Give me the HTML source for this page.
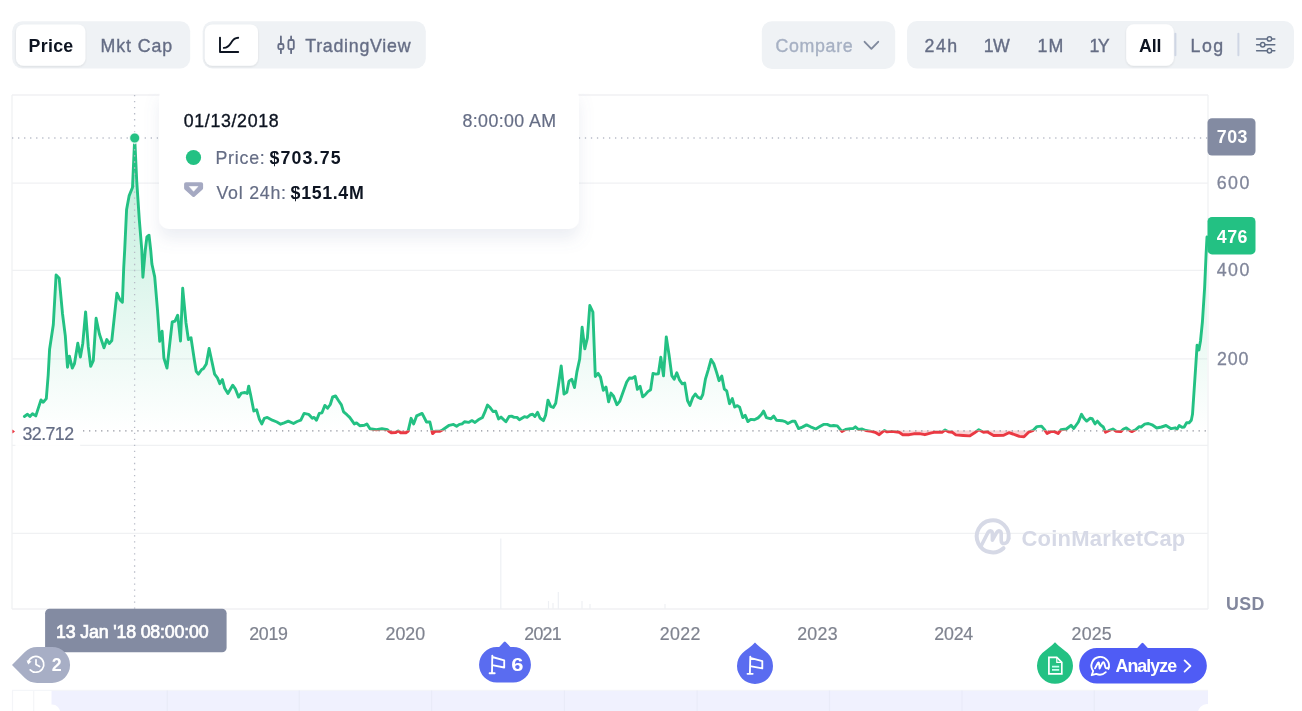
<!DOCTYPE html>
<html lang="en"><head><meta charset="utf-8"><title>Price chart</title>
<style>
html,body{margin:0;padding:0;background:#fff;}
body{width:1302px;height:711px;overflow:hidden;position:relative;font-family:"Liberation Sans",sans-serif;}
svg{position:absolute;left:0;top:0;display:block;font-family:"Liberation Sans",sans-serif;}
text{white-space:pre;}
</style></head><body>
<svg width="1302" height="711" viewBox="0 0 1302 711">
<defs>
<linearGradient id="gfill" x1="0" y1="95" x2="0" y2="431" gradientUnits="userSpaceOnUse">
<stop offset="0" stop-color="#23c183" stop-opacity="0.34"/><stop offset="1" stop-color="#23c183" stop-opacity="0"/></linearGradient>
<clipPath id="cup"><rect x="0" y="0" width="1302" height="430.6"/></clipPath>
<clipPath id="cdn"><rect x="0" y="430.6" width="1302" height="300"/></clipPath>
<filter id="sh" x="-20%" y="-30%" width="140%" height="180%"><feGaussianBlur in="SourceAlpha" stdDeviation="7.5"/><feOffset dy="10" result="b"/><feFlood flood-color="#7282a8" flood-opacity="0.13"/><feComposite in2="b" operator="in"/><feMerge><feMergeNode/><feMergeNode in="SourceGraphic"/></feMerge></filter>
<filter id="sh2" x="-20%" y="-20%" width="140%" height="150%"><feGaussianBlur in="SourceAlpha" stdDeviation="1.2"/><feOffset dy="1"/><feComponentTransfer><feFuncA type="linear" slope="0.10"/></feComponentTransfer><feMerge><feMergeNode/><feMergeNode in="SourceGraphic"/></feMerge></filter>
</defs>

<!-- toolbar -->
<g id="toolbar">
<rect x="12.2" y="21.2" width="178" height="47.3" rx="10" fill="#eff2f5"/>
<rect x="16" y="24.4" width="69.4" height="41.4" rx="7.5" fill="#fff" filter="url(#sh2)"/>
<text id="t_price" x="28.60" y="52.17" style="font-size:17.8px;font-weight:bold;fill:#0d1421;letter-spacing:0.275px;">Price</text><text id="t_mkt" x="100.40" y="52.17" style="font-size:17.8px;font-weight:normal;fill:#656d85;letter-spacing:0.933px;stroke:#656d85;stroke-width:0.35px;">Mkt Cap</text>
<rect x="202.6" y="21.2" width="223.2" height="47.3" rx="10" fill="#eff2f5"/>
<rect x="204.8" y="24.4" width="53.2" height="41.4" rx="7.5" fill="#fff" filter="url(#sh2)"/>
<g fill="none" stroke="#0d1421" stroke-width="1.9" stroke-linecap="round" stroke-linejoin="round">
<path d="M220 37.6V52H238.2"/><path d="M223.8 47.9C228.6 47.6 229.8 44.6 231.4 42.2C233 39.6 234.6 37.9 238.2 37.7"/></g>
<g fill="none" stroke="#656d85" stroke-width="1.8" stroke-linecap="round" stroke-linejoin="round">
<path d="M280.9 36.4V44M280.9 49.2V53.2M291.1 36.4V40M291.1 49.2V53.2"/>
<rect x="278.3" y="44" width="5.2" height="5.2" rx="1.4"/><rect x="288.4" y="40" width="5.4" height="9.2" rx="1.4"/></g>
<text id="t_tv" x="305.20" y="52.17" style="font-size:17.8px;font-weight:normal;fill:#656d85;letter-spacing:0.750px;stroke:#656d85;stroke-width:0.35px;">TradingView</text>
<rect x="761.8" y="21.2" width="133.4" height="47.8" rx="10" fill="#eff2f5"/>
<text id="t_cmp" x="775.40" y="52.17" style="font-size:17.8px;font-weight:normal;fill:#a6b0c3;letter-spacing:0.700px;stroke:#a6b0c3;stroke-width:0.35px;">Compare</text>
<path d="M864.6 41.8L871.4 48.8L878.2 41.8" fill="none" stroke="#808a9d" stroke-width="1.9" stroke-linecap="round" stroke-linejoin="round"/>
<rect x="907" y="21" width="387" height="47.6" rx="10" fill="#eff2f5"/>
<rect x="1126.2" y="24.2" width="47.6" height="41.6" rx="7.5" fill="#fff" filter="url(#sh2)"/>
<text id="t_24h" x="924.60" y="52.17" style="font-size:17.8px;font-weight:normal;fill:#656d85;letter-spacing:1.450px;stroke:#656d85;stroke-width:0.35px;">24h</text><text id="t_1w" x="983.80" y="52.17" style="font-size:17.8px;font-weight:normal;fill:#656d85;letter-spacing:-0.600px;stroke:#656d85;stroke-width:0.35px;">1W</text><text id="t_1m" x="1037.40" y="52.17" style="font-size:17.8px;font-weight:normal;fill:#656d85;letter-spacing:1.300px;stroke:#656d85;stroke-width:0.35px;">1M</text><text id="t_1y" x="1089.40" y="52.17" style="font-size:17.8px;font-weight:normal;fill:#656d85;letter-spacing:-1.500px;stroke:#656d85;stroke-width:0.35px;">1Y</text><text id="t_all" x="1139.10" y="52.17" style="font-size:17.8px;font-weight:bold;fill:#0d1421;letter-spacing:-0.150px;">All</text><text id="t_log" x="1190.50" y="52.17" style="font-size:17.8px;font-weight:normal;fill:#656d85;letter-spacing:1.500px;stroke:#656d85;stroke-width:0.35px;">Log</text>
<rect x="1174.4" y="32.8" width="2" height="23.4" rx="1" fill="#cfd6e4"/>
<rect x="1237.4" y="32.8" width="2" height="23.4" rx="1" fill="#cfd6e4"/>
<g fill="none" stroke="#616e85" stroke-width="1.5" stroke-linecap="round">
<path d="M1256.6 38.9H1267M1272 38.9H1274.8M1256.6 44.8H1260.2M1265.2 44.8H1274.8M1256.6 50.7H1267M1272 50.7H1274.8"/>
<circle cx="1269.5" cy="38.9" r="2.2"/><circle cx="1262.7" cy="44.8" r="2.2"/><circle cx="1269.5" cy="50.7" r="2.2"/></g>
</g>

<!-- chart -->
<g id="chart">
<g stroke="#f0f1f3" stroke-width="1.3" fill="none">
<line x1="12" x2="1208" y1="95" y2="95"/><line x1="12" x2="1208" y1="609" y2="609"/>
<line x1="12" x2="12" y1="95" y2="609"/><line x1="1208" x2="1208" y1="95" y2="609"/>
<line x1="12" x2="1208" y1="183.2" y2="183.2"/><line x1="12" x2="1208" y1="270.4" y2="270.4"/><line x1="12" x2="1208" y1="358.9" y2="358.9"/><line x1="12" x2="1208" y1="445.4" y2="445.4"/><line x1="12" x2="1208" y1="533.3" y2="533.3"/></g>
<!-- volume -->
<g stroke="#eef0f4" stroke-width="1.2"><line x1="500.8" x2="500.8" y1="538.5" y2="609"/><line x1="558.3" x2="558.3" y1="592" y2="609"/>
<line x1="548.5" x2="548.5" y1="601" y2="609"/><line x1="553" x2="553" y1="603" y2="609"/><line x1="582" x2="582" y1="601" y2="609"/><line x1="590" x2="590" y1="604" y2="609"/><line x1="665" x2="665" y1="604" y2="609"/></g>
<!-- watermark -->
<g fill="none" stroke="#d6d9e6" stroke-width="4" stroke-linecap="round" stroke-linejoin="round">
<path d="M1003.5 548.2A16 16 0 1 1 1008.6 538.5"/>
<path d="M980.8 546.5L988 532.5C989.6 529.8 992.4 530.6 992.4 533.6V540.2L996.6 532.6C998.2 529.9 1001.2 530.6 1001.2 533.6V540.6C1001.2 545 1007.6 544.6 1008.6 538.5" stroke-width="3.6"/></g>
<text id="wm" x="1021.50" y="546.28" style="font-size:22px;font-weight:bold;fill:#d6d9e6;letter-spacing:0.200px;">CoinMarketCap</text>
<path d="M24.4 416.5 L27.5 414.3 L29.9 416.5 L32.5 413.7 L35.8 415.9 L41.0 399.9 L43.2 402.3 L46.3 398.6 L48.2 375.0 L49.6 349.2 L53.3 324.8 L56.1 275.0 L59.2 278.3 L62.5 313.7 L65.3 335.9 L67.5 367.2 L69.4 356.1 L72.3 368.1 L74.5 363.5 L77.8 343.2 L80.4 357.0 L82.8 343.2 L85.6 311.9 L88.3 346.9 L90.7 366.3 L93.3 360.7 L96.1 318.3 L99.4 334.0 L104.0 347.8 L106.8 339.5 L109.2 343.6 L111.8 340.5 L116.9 293.1 L120.0 299.9 L122.4 302.3 L123.7 268.0 L124.7 250.0 L126.6 209.4 L129.1 195.9 L132.5 187.5 L134.7 138.0 L136.7 180.7 L139.3 219.6 L141.8 250.0 L142.9 277.2 L145.3 250.0 L146.9 236.8 L149.0 235.2 L150.8 251.0 L151.9 264.0 L154.7 276.9 L157.5 310.0 L159.7 341.4 L162.1 331.2 L163.9 358.0 L167.0 368.1 L172.2 322.0 L175.0 321.1 L177.7 315.2 L180.5 341.0 L182.7 288.3 L186.0 323.0 L188.4 339.5 L191.0 337.7 L194.3 359.8 L196.2 371.3 L198.4 374.1 L201.7 369.5 L203.5 368.6 L206.3 364.0 L209.1 348.5 L211.8 361.0 L214.6 374.1 L217.4 377.8 L219.8 383.7 L222.4 379.6 L224.7 388.3 L227.9 393.5 L232.7 385.2 L235.3 388.8 L238.6 397.1 L241.3 393.1 L245.0 392.5 L247.2 393.5 L248.7 386.1 L250.7 395.3 L253.8 411.0 L256.6 409.7 L259.4 419.3 L261.8 423.9 L264.3 418.3 L267.3 417.4 L272.3 420.2 L276.9 422.0 L280.6 424.2 L284.2 422.9 L288.3 421.1 L293.5 423.5 L297.1 421.5 L300.8 420.2 L304.1 413.4 L308.6 414.3 L312.3 418.3 L314.1 417.4 L316.5 420.2 L319.3 413.4 L322.0 412.8 L324.8 405.4 L327.6 408.2 L330.3 404.5 L332.7 396.8 L335.5 395.9 L338.6 400.8 L341.4 404.9 L343.6 411.9 L346.9 414.7 L349.7 417.4 L354.3 423.9 L356.5 422.9 L359.8 425.7 L364.4 425.2 L366.8 423.9 L370.0 428.8 L376.4 429.8 L381.9 428.8 L387.5 429.8 L389.3 431.6 L391.2 432.7 L395.8 432.5 L398.2 430.9 L400.7 432.7 L405.9 432.7 L408.1 431.2 L411.1 418.3 L413.6 423.9 L416.6 415.9 L422.1 413.4 L426.5 422.0 L429.9 422.0 L432.1 431.6 L432.6 433.6 L435.4 431.2 L440.0 431.2 L442.8 429.8 L449.2 425.3 L453.5 424.4 L456.6 426.3 L459.4 424.4 L462.1 423.9 L464.5 421.7 L468.6 422.4 L471.9 420.6 L475.0 422.4 L478.3 419.8 L482.5 417.4 L484.7 412.4 L487.5 405.1 L490.3 407.8 L493.0 411.5 L495.8 411.2 L498.6 418.9 L501.0 417.1 L505.9 421.7 L509.1 416.5 L511.5 416.1 L514.2 417.4 L517.0 417.4 L519.4 419.8 L524.4 416.7 L527.1 417.4 L530.5 414.7 L532.7 414.3 L534.9 416.5 L537.6 412.4 L540.0 418.0 L543.4 420.7 L545.6 415.2 L548.0 400.1 L550.7 406.4 L553.3 407.5 L555.7 403.2 L558.5 384.8 L561.2 366.0 L564.0 394.0 L566.8 392.2 L569.0 381.1 L571.8 379.3 L574.5 387.6 L576.9 371.9 L579.7 359.0 L582.1 327.3 L584.8 348.8 L587.4 337.8 L589.8 305.5 L592.9 312.0 L595.3 376.5 L598.1 373.4 L600.5 377.1 L603.3 390.3 L606.0 387.0 L608.6 401.8 L611.0 393.1 L613.4 395.9 L616.9 404.7 L619.7 401.4 L623.0 392.2 L626.7 382.0 L629.4 378.0 L632.2 378.3 L635.0 376.5 L637.4 389.4 L640.1 386.3 L642.7 396.8 L645.1 394.9 L647.9 391.6 L650.6 389.8 L653.0 373.4 L655.8 374.1 L658.4 373.7 L660.8 357.1 L663.5 375.9 L666.3 336.9 L669.1 355.3 L671.8 375.6 L674.2 379.3 L676.8 372.8 L679.6 380.2 L682.3 383.9 L684.7 383.0 L687.5 400.5 L689.9 405.4 L692.7 397.7 L695.3 394.0 L698.0 397.3 L700.8 398.6 L702.8 394.5 L705.5 378.8 L708.3 369.6 L711.1 359.5 L713.8 363.7 L716.6 372.4 L719.0 380.7 L721.8 376.1 L724.3 389.0 L726.7 390.8 L729.5 403.7 L732.3 398.6 L734.7 407.1 L737.4 405.6 L739.6 407.1 L742.8 417.6 L745.2 415.2 L747.9 421.6 L750.7 419.4 L754.4 419.8 L758.1 417.9 L761.2 414.8 L763.6 411.1 L766.4 417.6 L771.0 418.8 L773.7 416.1 L776.5 420.3 L782.0 420.7 L785.2 421.6 L787.9 423.5 L792.2 421.2 L794.9 421.2 L798.6 428.6 L802.3 427.1 L806.5 424.9 L810.6 426.8 L815.8 429.0 L819.4 426.8 L823.5 424.4 L827.2 424.4 L830.5 425.9 L833.6 425.5 L837.3 425.9 L841.9 431.4 L845.6 429.5 L850.2 428.6 L853.0 428.6 L855.4 426.8 L858.5 429.5 L862.2 429.0 L865.9 430.5 L871.4 431.4 L875.1 432.3 L879.2 434.7 L884.3 430.5 L887.1 431.9 L891.7 431.4 L899.1 432.3 L902.8 434.7 L909.2 434.7 L913.8 433.8 L919.4 433.6 L924.9 434.7 L930.4 433.2 L935.0 432.2 L942.0 432.2 L945.1 430.0 L948.4 431.8 L952.1 432.2 L955.8 434.9 L963.2 435.5 L969.6 435.9 L974.2 433.1 L978.8 429.8 L983.5 432.2 L987.1 431.8 L993.6 435.5 L1003.7 435.3 L1008.9 432.7 L1012.9 434.0 L1019.4 436.4 L1024.0 436.8 L1028.6 432.2 L1033.2 430.3 L1036.9 426.6 L1041.5 426.1 L1044.3 429.4 L1047.1 433.5 L1050.7 431.6 L1054.4 431.6 L1058.1 433.5 L1060.9 429.8 L1066.4 429.0 L1071.0 425.3 L1073.8 428.5 L1078.4 422.0 L1081.5 414.3 L1083.9 418.3 L1086.7 421.1 L1090.0 418.3 L1092.2 418.7 L1095.0 423.9 L1097.4 421.1 L1100.5 424.8 L1103.3 427.0 L1105.5 432.2 L1108.8 430.7 L1112.9 429.0 L1116.2 431.2 L1120.8 431.6 L1123.5 429.0 L1126.3 427.9 L1130.0 430.7 L1131.8 431.6 L1135.5 429.8 L1139.2 426.6 L1141.1 427.0 L1144.7 424.2 L1148.4 423.5 L1152.1 424.8 L1156.7 428.0 L1161.5 427.0 L1166.0 425.5 L1171.1 428.7 L1175.3 427.8 L1177.0 429.2 L1179.2 425.6 L1182.0 427.3 L1184.2 427.0 L1186.6 422.8 L1189.1 422.8 L1191.3 420.2 L1192.5 414.3 L1194.2 389.0 L1195.9 363.7 L1197.1 345.2 L1198.9 350.0 L1200.5 341.0 L1202.4 322.0 L1204.6 288.0 L1206.1 254.0 L1207.0 237.0 L1207.0 433.6 L12.5 433.6 L12.5 430.6 Z" fill="url(#gfill)" clip-path="url(#cup)"/>
<path d="M24.4 416.5 L27.5 414.3 L29.9 416.5 L32.5 413.7 L35.8 415.9 L41.0 399.9 L43.2 402.3 L46.3 398.6 L48.2 375.0 L49.6 349.2 L53.3 324.8 L56.1 275.0 L59.2 278.3 L62.5 313.7 L65.3 335.9 L67.5 367.2 L69.4 356.1 L72.3 368.1 L74.5 363.5 L77.8 343.2 L80.4 357.0 L82.8 343.2 L85.6 311.9 L88.3 346.9 L90.7 366.3 L93.3 360.7 L96.1 318.3 L99.4 334.0 L104.0 347.8 L106.8 339.5 L109.2 343.6 L111.8 340.5 L116.9 293.1 L120.0 299.9 L122.4 302.3 L123.7 268.0 L124.7 250.0 L126.6 209.4 L129.1 195.9 L132.5 187.5 L134.7 138.0 L136.7 180.7 L139.3 219.6 L141.8 250.0 L142.9 277.2 L145.3 250.0 L146.9 236.8 L149.0 235.2 L150.8 251.0 L151.9 264.0 L154.7 276.9 L157.5 310.0 L159.7 341.4 L162.1 331.2 L163.9 358.0 L167.0 368.1 L172.2 322.0 L175.0 321.1 L177.7 315.2 L180.5 341.0 L182.7 288.3 L186.0 323.0 L188.4 339.5 L191.0 337.7 L194.3 359.8 L196.2 371.3 L198.4 374.1 L201.7 369.5 L203.5 368.6 L206.3 364.0 L209.1 348.5 L211.8 361.0 L214.6 374.1 L217.4 377.8 L219.8 383.7 L222.4 379.6 L224.7 388.3 L227.9 393.5 L232.7 385.2 L235.3 388.8 L238.6 397.1 L241.3 393.1 L245.0 392.5 L247.2 393.5 L248.7 386.1 L250.7 395.3 L253.8 411.0 L256.6 409.7 L259.4 419.3 L261.8 423.9 L264.3 418.3 L267.3 417.4 L272.3 420.2 L276.9 422.0 L280.6 424.2 L284.2 422.9 L288.3 421.1 L293.5 423.5 L297.1 421.5 L300.8 420.2 L304.1 413.4 L308.6 414.3 L312.3 418.3 L314.1 417.4 L316.5 420.2 L319.3 413.4 L322.0 412.8 L324.8 405.4 L327.6 408.2 L330.3 404.5 L332.7 396.8 L335.5 395.9 L338.6 400.8 L341.4 404.9 L343.6 411.9 L346.9 414.7 L349.7 417.4 L354.3 423.9 L356.5 422.9 L359.8 425.7 L364.4 425.2 L366.8 423.9 L370.0 428.8 L376.4 429.8 L381.9 428.8 L387.5 429.8 L389.3 431.6 L391.2 432.7 L395.8 432.5 L398.2 430.9 L400.7 432.7 L405.9 432.7 L408.1 431.2 L411.1 418.3 L413.6 423.9 L416.6 415.9 L422.1 413.4 L426.5 422.0 L429.9 422.0 L432.1 431.6 L432.6 433.6 L435.4 431.2 L440.0 431.2 L442.8 429.8 L449.2 425.3 L453.5 424.4 L456.6 426.3 L459.4 424.4 L462.1 423.9 L464.5 421.7 L468.6 422.4 L471.9 420.6 L475.0 422.4 L478.3 419.8 L482.5 417.4 L484.7 412.4 L487.5 405.1 L490.3 407.8 L493.0 411.5 L495.8 411.2 L498.6 418.9 L501.0 417.1 L505.9 421.7 L509.1 416.5 L511.5 416.1 L514.2 417.4 L517.0 417.4 L519.4 419.8 L524.4 416.7 L527.1 417.4 L530.5 414.7 L532.7 414.3 L534.9 416.5 L537.6 412.4 L540.0 418.0 L543.4 420.7 L545.6 415.2 L548.0 400.1 L550.7 406.4 L553.3 407.5 L555.7 403.2 L558.5 384.8 L561.2 366.0 L564.0 394.0 L566.8 392.2 L569.0 381.1 L571.8 379.3 L574.5 387.6 L576.9 371.9 L579.7 359.0 L582.1 327.3 L584.8 348.8 L587.4 337.8 L589.8 305.5 L592.9 312.0 L595.3 376.5 L598.1 373.4 L600.5 377.1 L603.3 390.3 L606.0 387.0 L608.6 401.8 L611.0 393.1 L613.4 395.9 L616.9 404.7 L619.7 401.4 L623.0 392.2 L626.7 382.0 L629.4 378.0 L632.2 378.3 L635.0 376.5 L637.4 389.4 L640.1 386.3 L642.7 396.8 L645.1 394.9 L647.9 391.6 L650.6 389.8 L653.0 373.4 L655.8 374.1 L658.4 373.7 L660.8 357.1 L663.5 375.9 L666.3 336.9 L669.1 355.3 L671.8 375.6 L674.2 379.3 L676.8 372.8 L679.6 380.2 L682.3 383.9 L684.7 383.0 L687.5 400.5 L689.9 405.4 L692.7 397.7 L695.3 394.0 L698.0 397.3 L700.8 398.6 L702.8 394.5 L705.5 378.8 L708.3 369.6 L711.1 359.5 L713.8 363.7 L716.6 372.4 L719.0 380.7 L721.8 376.1 L724.3 389.0 L726.7 390.8 L729.5 403.7 L732.3 398.6 L734.7 407.1 L737.4 405.6 L739.6 407.1 L742.8 417.6 L745.2 415.2 L747.9 421.6 L750.7 419.4 L754.4 419.8 L758.1 417.9 L761.2 414.8 L763.6 411.1 L766.4 417.6 L771.0 418.8 L773.7 416.1 L776.5 420.3 L782.0 420.7 L785.2 421.6 L787.9 423.5 L792.2 421.2 L794.9 421.2 L798.6 428.6 L802.3 427.1 L806.5 424.9 L810.6 426.8 L815.8 429.0 L819.4 426.8 L823.5 424.4 L827.2 424.4 L830.5 425.9 L833.6 425.5 L837.3 425.9 L841.9 431.4 L845.6 429.5 L850.2 428.6 L853.0 428.6 L855.4 426.8 L858.5 429.5 L862.2 429.0 L865.9 430.5 L871.4 431.4 L875.1 432.3 L879.2 434.7 L884.3 430.5 L887.1 431.9 L891.7 431.4 L899.1 432.3 L902.8 434.7 L909.2 434.7 L913.8 433.8 L919.4 433.6 L924.9 434.7 L930.4 433.2 L935.0 432.2 L942.0 432.2 L945.1 430.0 L948.4 431.8 L952.1 432.2 L955.8 434.9 L963.2 435.5 L969.6 435.9 L974.2 433.1 L978.8 429.8 L983.5 432.2 L987.1 431.8 L993.6 435.5 L1003.7 435.3 L1008.9 432.7 L1012.9 434.0 L1019.4 436.4 L1024.0 436.8 L1028.6 432.2 L1033.2 430.3 L1036.9 426.6 L1041.5 426.1 L1044.3 429.4 L1047.1 433.5 L1050.7 431.6 L1054.4 431.6 L1058.1 433.5 L1060.9 429.8 L1066.4 429.0 L1071.0 425.3 L1073.8 428.5 L1078.4 422.0 L1081.5 414.3 L1083.9 418.3 L1086.7 421.1 L1090.0 418.3 L1092.2 418.7 L1095.0 423.9 L1097.4 421.1 L1100.5 424.8 L1103.3 427.0 L1105.5 432.2 L1108.8 430.7 L1112.9 429.0 L1116.2 431.2 L1120.8 431.6 L1123.5 429.0 L1126.3 427.9 L1130.0 430.7 L1131.8 431.6 L1135.5 429.8 L1139.2 426.6 L1141.1 427.0 L1144.7 424.2 L1148.4 423.5 L1152.1 424.8 L1156.7 428.0 L1161.5 427.0 L1166.0 425.5 L1171.1 428.7 L1175.3 427.8 L1177.0 429.2 L1179.2 425.6 L1182.0 427.3 L1184.2 427.0 L1186.6 422.8 L1189.1 422.8 L1191.3 420.2 L1192.5 414.3 L1194.2 389.0 L1195.9 363.7 L1197.1 345.2 L1198.9 350.0 L1200.5 341.0 L1202.4 322.0 L1204.6 288.0 L1206.1 254.0 L1207.0 237.0 L1207.0 427.6 L24.4 427.6 Z" fill="#ea3943" fill-opacity="0.22" clip-path="url(#cdn)"/>
<!-- crosshair + baseline -->
<g fill="none" stroke-width="1.3" stroke-dasharray="1.3 4.73">
<line x1="83" x2="1208" y1="430.9" y2="430.9" stroke="#8e919b"/></g>
<path d="M24.4 416.5 L27.5 414.3 L29.9 416.5 L32.5 413.7 L35.8 415.9 L41.0 399.9 L43.2 402.3 L46.3 398.6 L48.2 375.0 L49.6 349.2 L53.3 324.8 L56.1 275.0 L59.2 278.3 L62.5 313.7 L65.3 335.9 L67.5 367.2 L69.4 356.1 L72.3 368.1 L74.5 363.5 L77.8 343.2 L80.4 357.0 L82.8 343.2 L85.6 311.9 L88.3 346.9 L90.7 366.3 L93.3 360.7 L96.1 318.3 L99.4 334.0 L104.0 347.8 L106.8 339.5 L109.2 343.6 L111.8 340.5 L116.9 293.1 L120.0 299.9 L122.4 302.3 L123.7 268.0 L124.7 250.0 L126.6 209.4 L129.1 195.9 L132.5 187.5 L134.7 138.0 L136.7 180.7 L139.3 219.6 L141.8 250.0 L142.9 277.2 L145.3 250.0 L146.9 236.8 L149.0 235.2 L150.8 251.0 L151.9 264.0 L154.7 276.9 L157.5 310.0 L159.7 341.4 L162.1 331.2 L163.9 358.0 L167.0 368.1 L172.2 322.0 L175.0 321.1 L177.7 315.2 L180.5 341.0 L182.7 288.3 L186.0 323.0 L188.4 339.5 L191.0 337.7 L194.3 359.8 L196.2 371.3 L198.4 374.1 L201.7 369.5 L203.5 368.6 L206.3 364.0 L209.1 348.5 L211.8 361.0 L214.6 374.1 L217.4 377.8 L219.8 383.7 L222.4 379.6 L224.7 388.3 L227.9 393.5 L232.7 385.2 L235.3 388.8 L238.6 397.1 L241.3 393.1 L245.0 392.5 L247.2 393.5 L248.7 386.1 L250.7 395.3 L253.8 411.0 L256.6 409.7 L259.4 419.3 L261.8 423.9 L264.3 418.3 L267.3 417.4 L272.3 420.2 L276.9 422.0 L280.6 424.2 L284.2 422.9 L288.3 421.1 L293.5 423.5 L297.1 421.5 L300.8 420.2 L304.1 413.4 L308.6 414.3 L312.3 418.3 L314.1 417.4 L316.5 420.2 L319.3 413.4 L322.0 412.8 L324.8 405.4 L327.6 408.2 L330.3 404.5 L332.7 396.8 L335.5 395.9 L338.6 400.8 L341.4 404.9 L343.6 411.9 L346.9 414.7 L349.7 417.4 L354.3 423.9 L356.5 422.9 L359.8 425.7 L364.4 425.2 L366.8 423.9 L370.0 428.8 L376.4 429.8 L381.9 428.8 L387.5 429.8 L389.3 431.6 L391.2 432.7 L395.8 432.5 L398.2 430.9 L400.7 432.7 L405.9 432.7 L408.1 431.2 L411.1 418.3 L413.6 423.9 L416.6 415.9 L422.1 413.4 L426.5 422.0 L429.9 422.0 L432.1 431.6 L432.6 433.6 L435.4 431.2 L440.0 431.2 L442.8 429.8 L449.2 425.3 L453.5 424.4 L456.6 426.3 L459.4 424.4 L462.1 423.9 L464.5 421.7 L468.6 422.4 L471.9 420.6 L475.0 422.4 L478.3 419.8 L482.5 417.4 L484.7 412.4 L487.5 405.1 L490.3 407.8 L493.0 411.5 L495.8 411.2 L498.6 418.9 L501.0 417.1 L505.9 421.7 L509.1 416.5 L511.5 416.1 L514.2 417.4 L517.0 417.4 L519.4 419.8 L524.4 416.7 L527.1 417.4 L530.5 414.7 L532.7 414.3 L534.9 416.5 L537.6 412.4 L540.0 418.0 L543.4 420.7 L545.6 415.2 L548.0 400.1 L550.7 406.4 L553.3 407.5 L555.7 403.2 L558.5 384.8 L561.2 366.0 L564.0 394.0 L566.8 392.2 L569.0 381.1 L571.8 379.3 L574.5 387.6 L576.9 371.9 L579.7 359.0 L582.1 327.3 L584.8 348.8 L587.4 337.8 L589.8 305.5 L592.9 312.0 L595.3 376.5 L598.1 373.4 L600.5 377.1 L603.3 390.3 L606.0 387.0 L608.6 401.8 L611.0 393.1 L613.4 395.9 L616.9 404.7 L619.7 401.4 L623.0 392.2 L626.7 382.0 L629.4 378.0 L632.2 378.3 L635.0 376.5 L637.4 389.4 L640.1 386.3 L642.7 396.8 L645.1 394.9 L647.9 391.6 L650.6 389.8 L653.0 373.4 L655.8 374.1 L658.4 373.7 L660.8 357.1 L663.5 375.9 L666.3 336.9 L669.1 355.3 L671.8 375.6 L674.2 379.3 L676.8 372.8 L679.6 380.2 L682.3 383.9 L684.7 383.0 L687.5 400.5 L689.9 405.4 L692.7 397.7 L695.3 394.0 L698.0 397.3 L700.8 398.6 L702.8 394.5 L705.5 378.8 L708.3 369.6 L711.1 359.5 L713.8 363.7 L716.6 372.4 L719.0 380.7 L721.8 376.1 L724.3 389.0 L726.7 390.8 L729.5 403.7 L732.3 398.6 L734.7 407.1 L737.4 405.6 L739.6 407.1 L742.8 417.6 L745.2 415.2 L747.9 421.6 L750.7 419.4 L754.4 419.8 L758.1 417.9 L761.2 414.8 L763.6 411.1 L766.4 417.6 L771.0 418.8 L773.7 416.1 L776.5 420.3 L782.0 420.7 L785.2 421.6 L787.9 423.5 L792.2 421.2 L794.9 421.2 L798.6 428.6 L802.3 427.1 L806.5 424.9 L810.6 426.8 L815.8 429.0 L819.4 426.8 L823.5 424.4 L827.2 424.4 L830.5 425.9 L833.6 425.5 L837.3 425.9 L841.9 431.4 L845.6 429.5 L850.2 428.6 L853.0 428.6 L855.4 426.8 L858.5 429.5 L862.2 429.0 L865.9 430.5 L871.4 431.4 L875.1 432.3 L879.2 434.7 L884.3 430.5 L887.1 431.9 L891.7 431.4 L899.1 432.3 L902.8 434.7 L909.2 434.7 L913.8 433.8 L919.4 433.6 L924.9 434.7 L930.4 433.2 L935.0 432.2 L942.0 432.2 L945.1 430.0 L948.4 431.8 L952.1 432.2 L955.8 434.9 L963.2 435.5 L969.6 435.9 L974.2 433.1 L978.8 429.8 L983.5 432.2 L987.1 431.8 L993.6 435.5 L1003.7 435.3 L1008.9 432.7 L1012.9 434.0 L1019.4 436.4 L1024.0 436.8 L1028.6 432.2 L1033.2 430.3 L1036.9 426.6 L1041.5 426.1 L1044.3 429.4 L1047.1 433.5 L1050.7 431.6 L1054.4 431.6 L1058.1 433.5 L1060.9 429.8 L1066.4 429.0 L1071.0 425.3 L1073.8 428.5 L1078.4 422.0 L1081.5 414.3 L1083.9 418.3 L1086.7 421.1 L1090.0 418.3 L1092.2 418.7 L1095.0 423.9 L1097.4 421.1 L1100.5 424.8 L1103.3 427.0 L1105.5 432.2 L1108.8 430.7 L1112.9 429.0 L1116.2 431.2 L1120.8 431.6 L1123.5 429.0 L1126.3 427.9 L1130.0 430.7 L1131.8 431.6 L1135.5 429.8 L1139.2 426.6 L1141.1 427.0 L1144.7 424.2 L1148.4 423.5 L1152.1 424.8 L1156.7 428.0 L1161.5 427.0 L1166.0 425.5 L1171.1 428.7 L1175.3 427.8 L1177.0 429.2 L1179.2 425.6 L1182.0 427.3 L1184.2 427.0 L1186.6 422.8 L1189.1 422.8 L1191.3 420.2 L1192.5 414.3 L1194.2 389.0 L1195.9 363.7 L1197.1 345.2 L1198.9 350.0 L1200.5 341.0 L1202.4 322.0 L1204.6 288.0 L1206.1 254.0 L1207.0 237.0" fill="none" stroke="#23c183" stroke-width="2.9" stroke-linejoin="round" stroke-linecap="round" clip-path="url(#cup)"/>
<path d="M24.4 416.5 L27.5 414.3 L29.9 416.5 L32.5 413.7 L35.8 415.9 L41.0 399.9 L43.2 402.3 L46.3 398.6 L48.2 375.0 L49.6 349.2 L53.3 324.8 L56.1 275.0 L59.2 278.3 L62.5 313.7 L65.3 335.9 L67.5 367.2 L69.4 356.1 L72.3 368.1 L74.5 363.5 L77.8 343.2 L80.4 357.0 L82.8 343.2 L85.6 311.9 L88.3 346.9 L90.7 366.3 L93.3 360.7 L96.1 318.3 L99.4 334.0 L104.0 347.8 L106.8 339.5 L109.2 343.6 L111.8 340.5 L116.9 293.1 L120.0 299.9 L122.4 302.3 L123.7 268.0 L124.7 250.0 L126.6 209.4 L129.1 195.9 L132.5 187.5 L134.7 138.0 L136.7 180.7 L139.3 219.6 L141.8 250.0 L142.9 277.2 L145.3 250.0 L146.9 236.8 L149.0 235.2 L150.8 251.0 L151.9 264.0 L154.7 276.9 L157.5 310.0 L159.7 341.4 L162.1 331.2 L163.9 358.0 L167.0 368.1 L172.2 322.0 L175.0 321.1 L177.7 315.2 L180.5 341.0 L182.7 288.3 L186.0 323.0 L188.4 339.5 L191.0 337.7 L194.3 359.8 L196.2 371.3 L198.4 374.1 L201.7 369.5 L203.5 368.6 L206.3 364.0 L209.1 348.5 L211.8 361.0 L214.6 374.1 L217.4 377.8 L219.8 383.7 L222.4 379.6 L224.7 388.3 L227.9 393.5 L232.7 385.2 L235.3 388.8 L238.6 397.1 L241.3 393.1 L245.0 392.5 L247.2 393.5 L248.7 386.1 L250.7 395.3 L253.8 411.0 L256.6 409.7 L259.4 419.3 L261.8 423.9 L264.3 418.3 L267.3 417.4 L272.3 420.2 L276.9 422.0 L280.6 424.2 L284.2 422.9 L288.3 421.1 L293.5 423.5 L297.1 421.5 L300.8 420.2 L304.1 413.4 L308.6 414.3 L312.3 418.3 L314.1 417.4 L316.5 420.2 L319.3 413.4 L322.0 412.8 L324.8 405.4 L327.6 408.2 L330.3 404.5 L332.7 396.8 L335.5 395.9 L338.6 400.8 L341.4 404.9 L343.6 411.9 L346.9 414.7 L349.7 417.4 L354.3 423.9 L356.5 422.9 L359.8 425.7 L364.4 425.2 L366.8 423.9 L370.0 428.8 L376.4 429.8 L381.9 428.8 L387.5 429.8 L389.3 431.6 L391.2 432.7 L395.8 432.5 L398.2 430.9 L400.7 432.7 L405.9 432.7 L408.1 431.2 L411.1 418.3 L413.6 423.9 L416.6 415.9 L422.1 413.4 L426.5 422.0 L429.9 422.0 L432.1 431.6 L432.6 433.6 L435.4 431.2 L440.0 431.2 L442.8 429.8 L449.2 425.3 L453.5 424.4 L456.6 426.3 L459.4 424.4 L462.1 423.9 L464.5 421.7 L468.6 422.4 L471.9 420.6 L475.0 422.4 L478.3 419.8 L482.5 417.4 L484.7 412.4 L487.5 405.1 L490.3 407.8 L493.0 411.5 L495.8 411.2 L498.6 418.9 L501.0 417.1 L505.9 421.7 L509.1 416.5 L511.5 416.1 L514.2 417.4 L517.0 417.4 L519.4 419.8 L524.4 416.7 L527.1 417.4 L530.5 414.7 L532.7 414.3 L534.9 416.5 L537.6 412.4 L540.0 418.0 L543.4 420.7 L545.6 415.2 L548.0 400.1 L550.7 406.4 L553.3 407.5 L555.7 403.2 L558.5 384.8 L561.2 366.0 L564.0 394.0 L566.8 392.2 L569.0 381.1 L571.8 379.3 L574.5 387.6 L576.9 371.9 L579.7 359.0 L582.1 327.3 L584.8 348.8 L587.4 337.8 L589.8 305.5 L592.9 312.0 L595.3 376.5 L598.1 373.4 L600.5 377.1 L603.3 390.3 L606.0 387.0 L608.6 401.8 L611.0 393.1 L613.4 395.9 L616.9 404.7 L619.7 401.4 L623.0 392.2 L626.7 382.0 L629.4 378.0 L632.2 378.3 L635.0 376.5 L637.4 389.4 L640.1 386.3 L642.7 396.8 L645.1 394.9 L647.9 391.6 L650.6 389.8 L653.0 373.4 L655.8 374.1 L658.4 373.7 L660.8 357.1 L663.5 375.9 L666.3 336.9 L669.1 355.3 L671.8 375.6 L674.2 379.3 L676.8 372.8 L679.6 380.2 L682.3 383.9 L684.7 383.0 L687.5 400.5 L689.9 405.4 L692.7 397.7 L695.3 394.0 L698.0 397.3 L700.8 398.6 L702.8 394.5 L705.5 378.8 L708.3 369.6 L711.1 359.5 L713.8 363.7 L716.6 372.4 L719.0 380.7 L721.8 376.1 L724.3 389.0 L726.7 390.8 L729.5 403.7 L732.3 398.6 L734.7 407.1 L737.4 405.6 L739.6 407.1 L742.8 417.6 L745.2 415.2 L747.9 421.6 L750.7 419.4 L754.4 419.8 L758.1 417.9 L761.2 414.8 L763.6 411.1 L766.4 417.6 L771.0 418.8 L773.7 416.1 L776.5 420.3 L782.0 420.7 L785.2 421.6 L787.9 423.5 L792.2 421.2 L794.9 421.2 L798.6 428.6 L802.3 427.1 L806.5 424.9 L810.6 426.8 L815.8 429.0 L819.4 426.8 L823.5 424.4 L827.2 424.4 L830.5 425.9 L833.6 425.5 L837.3 425.9 L841.9 431.4 L845.6 429.5 L850.2 428.6 L853.0 428.6 L855.4 426.8 L858.5 429.5 L862.2 429.0 L865.9 430.5 L871.4 431.4 L875.1 432.3 L879.2 434.7 L884.3 430.5 L887.1 431.9 L891.7 431.4 L899.1 432.3 L902.8 434.7 L909.2 434.7 L913.8 433.8 L919.4 433.6 L924.9 434.7 L930.4 433.2 L935.0 432.2 L942.0 432.2 L945.1 430.0 L948.4 431.8 L952.1 432.2 L955.8 434.9 L963.2 435.5 L969.6 435.9 L974.2 433.1 L978.8 429.8 L983.5 432.2 L987.1 431.8 L993.6 435.5 L1003.7 435.3 L1008.9 432.7 L1012.9 434.0 L1019.4 436.4 L1024.0 436.8 L1028.6 432.2 L1033.2 430.3 L1036.9 426.6 L1041.5 426.1 L1044.3 429.4 L1047.1 433.5 L1050.7 431.6 L1054.4 431.6 L1058.1 433.5 L1060.9 429.8 L1066.4 429.0 L1071.0 425.3 L1073.8 428.5 L1078.4 422.0 L1081.5 414.3 L1083.9 418.3 L1086.7 421.1 L1090.0 418.3 L1092.2 418.7 L1095.0 423.9 L1097.4 421.1 L1100.5 424.8 L1103.3 427.0 L1105.5 432.2 L1108.8 430.7 L1112.9 429.0 L1116.2 431.2 L1120.8 431.6 L1123.5 429.0 L1126.3 427.9 L1130.0 430.7 L1131.8 431.6 L1135.5 429.8 L1139.2 426.6 L1141.1 427.0 L1144.7 424.2 L1148.4 423.5 L1152.1 424.8 L1156.7 428.0 L1161.5 427.0 L1166.0 425.5 L1171.1 428.7 L1175.3 427.8 L1177.0 429.2 L1179.2 425.6 L1182.0 427.3 L1184.2 427.0 L1186.6 422.8 L1189.1 422.8 L1191.3 420.2 L1192.5 414.3 L1194.2 389.0 L1195.9 363.7 L1197.1 345.2 L1198.9 350.0 L1200.5 341.0 L1202.4 322.0 L1204.6 288.0 L1206.1 254.0 L1207.0 237.0" fill="none" stroke="#ea3943" stroke-width="2.9" stroke-linejoin="round" stroke-linecap="round" clip-path="url(#cdn)"/>
<g fill="none" stroke-width="1.3" stroke-dasharray="1.3 4.73" stroke="#b8bcc8">
<line x1="12" x2="1208" y1="138" y2="138"/>
<line x1="134.6" x2="134.6" y1="95" y2="609"/></g>
<circle cx="134.7" cy="138" r="5.2" fill="#23c183" stroke="#fff" stroke-opacity="0.8" stroke-width="1.4"/>
<path d="M12.4 429.6L15 431.4L12.4 433.4Z" fill="#ea3943"/>
<rect x="15.4" y="420" width="64.8" height="27.5" fill="#fff" fill-opacity="0.92"/>
<text id="a_base" x="22.50" y="440.17" style="font-size:17.8px;font-weight:normal;fill:#656d85;letter-spacing:-0.560px;stroke:#656d85;stroke-width:0.2px;">32.712</text>
<!-- right axis -->
<rect x="1207.5" y="118.2" width="48" height="37.4" rx="4.5" fill="#838ba2"/><text id="a_703" x="1216.80" y="143.37" style="font-size:17.8px;font-weight:bold;fill:#ffffff;letter-spacing:0.450px;">703</text>
<rect x="1207.5" y="217" width="48" height="37.4" rx="4.5" fill="#23c183"/><text id="a_476" x="1216.80" y="242.57" style="font-size:17.8px;font-weight:bold;fill:#ffffff;letter-spacing:0.450px;">476</text>
<text id="a_600" x="1216.80" y="189.17" style="font-size:17.8px;font-weight:normal;fill:#80869a;letter-spacing:1.400px;stroke:#80869a;stroke-width:0.3px;">600</text><text id="a_400" x="1216.80" y="276.37" style="font-size:17.8px;font-weight:normal;fill:#80869a;letter-spacing:1.400px;stroke:#80869a;stroke-width:0.3px;">400</text><text id="a_200" x="1217.00" y="365.07" style="font-size:17.8px;font-weight:normal;fill:#80869a;letter-spacing:0.900px;stroke:#80869a;stroke-width:0.3px;">200</text><text id="a_usd" x="1226.10" y="610.17" style="font-size:17.8px;font-weight:bold;fill:#82879d;letter-spacing:0.400px;">USD</text>
<!-- x axis -->
<text id="x_2019" x="249.30" y="639.57" style="font-size:17.8px;font-weight:normal;fill:#7f838f;letter-spacing:-0.333px;stroke:#7f838f;stroke-width:0.2px;">2019</text><text id="x_2020" x="385.50" y="639.57" style="font-size:17.8px;font-weight:normal;fill:#7f838f;letter-spacing:0.000px;stroke:#7f838f;stroke-width:0.2px;">2020</text><text id="x_2021" x="524.30" y="639.57" style="font-size:17.8px;font-weight:normal;fill:#7f838f;letter-spacing:-0.733px;stroke:#7f838f;stroke-width:0.2px;">2021</text><text id="x_2022" x="659.80" y="639.57" style="font-size:17.8px;font-weight:normal;fill:#7f838f;letter-spacing:0.367px;stroke:#7f838f;stroke-width:0.2px;">2022</text><text id="x_2023" x="797.20" y="639.57" style="font-size:17.8px;font-weight:normal;fill:#7f838f;letter-spacing:0.267px;stroke:#7f838f;stroke-width:0.2px;">2023</text><text id="x_2024" x="934.30" y="639.57" style="font-size:17.8px;font-weight:normal;fill:#7f838f;letter-spacing:-0.200px;stroke:#7f838f;stroke-width:0.2px;">2024</text><text id="x_2025" x="1071.60" y="639.57" style="font-size:17.8px;font-weight:normal;fill:#7f838f;letter-spacing:0.200px;stroke:#7f838f;stroke-width:0.2px;">2025</text>
<rect x="45.1" y="608.8" width="181.5" height="43.4" rx="4.5" fill="#838ba2"/><text id="x_date" x="56.10" y="637.67" style="font-size:17.8px;font-weight:normal;fill:#ffffff;letter-spacing:-0.172px;stroke:#ffffff;stroke-width:0.7px;">13 Jan '18 08:00:00</text>
</g>

<!-- tooltip -->
<clipPath id="ctt"><rect x="100" y="93" width="600" height="300"/></clipPath>
<g id="tooltip" clip-path="url(#ctt)">
<rect x="159" y="87" width="420" height="142" rx="10" fill="#fff" filter="url(#sh)"/>
<text id="tt_date" x="183.80" y="126.87" style="font-size:17.8px;font-weight:normal;fill:#0d1421;letter-spacing:0.644px;stroke:#0d1421;stroke-width:0.35px;">01/13/2018</text><text id="tt_time" x="462.50" y="126.87" style="font-size:17.8px;font-weight:normal;fill:#656d85;letter-spacing:0.389px;stroke:#656d85;stroke-width:0.2px;">8:00:00 AM</text>
<circle cx="193.5" cy="157.5" r="7.6" fill="#23c183"/>
<text id="tt_pl" x="215.50" y="163.97" style="font-size:17.8px;font-weight:normal;fill:#656d85;letter-spacing:0.760px;stroke:#656d85;stroke-width:0.2px;">Price:</text><text id="tt_pv" x="269.40" y="163.97" style="font-size:17.8px;font-weight:bold;fill:#0d1421;letter-spacing:1.150px;">$703.75</text>
<path d="M186 182.2H201.2Q203.1 182.2 203.1 184.1V188Q203.1 189 202.3 189.7L194.8 196.6Q193.6 197.6 192.4 196.6L184.9 189.7Q184.1 189 184.1 188V184.1Q184.1 182.2 186 182.2Z" fill="#a5a9c2"/>
<path d="M189.3 186.5H197.9L193.6 191.3Z" fill="#fff" stroke="#fff" stroke-width="0.6" stroke-linejoin="round"/>
<text id="tt_vl" x="216.50" y="198.87" style="font-size:17.8px;font-weight:normal;fill:#656d85;letter-spacing:0.743px;stroke:#656d85;stroke-width:0.2px;">Vol 24h:</text><text id="tt_vv" x="290.60" y="198.87" style="font-size:17.8px;font-weight:bold;fill:#0d1421;letter-spacing:0.650px;">$151.4M</text>
</g>

<!-- event markers -->
<g id="markers">
<path fill="#a7aec5" d="M12 665L24.6 652.3A17.9 17.9 0 0 1 37.2 647H52.1A17.95 17.95 0 0 1 52.1 682.9H37.2A17.9 17.9 0 0 1 24.6 677.7Z"/>
<g fill="none" stroke="#fff" stroke-width="1.7" stroke-linecap="round" stroke-linejoin="round">
<path d="M28.3 662.2A7.9 7.9 0 1 1 30.2 669.8"/><path d="M36 659.8V664.6L39.6 666.6"/></g>
<path d="M26.6 660.2L28.2 664.4L31.6 661.6Z" fill="#fff"/>
<text id="b_2" x="51.80" y="670.97" style="font-size:17.8px;font-weight:bold;fill:#ffffff;letter-spacing:0.000px;">2</text>
<path fill="#5a6cf0" d="M496.8 647H499.2L503.9 641.9Q504.8 641 505.7 641.9L510.4 647H513.2A17.75 17.75 0 0 1 513.2 682.5H496.8A17.75 17.75 0 0 1 496.8 647Z"/>
<g fill="none" stroke="#fff" stroke-width="1.85" stroke-linecap="round" stroke-linejoin="round">
<path d="M492.3 655.6L492 673M489.6 673.2H494.7M492.3 657L504.2 660.3V667.5L492.2 665.2"/></g>
<text id="b_6" transform="translate(511.30 0) scale(1.233 1) translate(-511.30 0)" x="511.30" y="671.37" style="font-size:17.8px;font-weight:bold;fill:#ffffff;letter-spacing:0.000px;">6</text>
<path fill="#5a6cf0" d="M755 642.5 C758.5 646.7,764.5278 650.1722,767.7278 653.1722 A18 18 0 1 1 742.2722 653.1722 C745.4722 650.1722,751.5 646.7,755 642.5 Z"/>
<g fill="none" stroke="#fff" stroke-width="1.85" stroke-linecap="round" stroke-linejoin="round">
<path d="M750.3 656.6L749.9 673.5M747.5 673.8H752.7M750.3 657.9L762.3 661.1V668.4L750.1 666.1"/></g>
<path fill="#23c183" d="M1055 642.3 C1058.5 646.5,1064.5277999999998 650.0722,1067.7278 653.0722 A18 18 0 1 1 1042.2722 653.0722 C1045.4722000000002 650.0722,1051.5 646.5,1055 642.3 Z"/>
<g fill="none" stroke="#fff" stroke-width="1.7" stroke-linejoin="miter">
<path d="M1048.9 657.3H1056.8L1061.8 662.3V673.9H1048.9Z"/><path d="M1056.8 657.3V662.3H1061.8" stroke-width="1.2"/></g>
<path d="M1052 666.7H1059.2M1052 669.9H1059.2" stroke="#c4fff0" stroke-width="1.8" fill="none"/>
<path fill="#4f5cf5" d="M1096.9 648H1137.2L1141.6 643.2Q1142.5 642.3 1143.4 643.2L1147.8 648H1189.1A17.75 17.75 0 0 1 1189.1 683.5H1096.9A17.75 17.75 0 0 1 1096.9 648Z"/>
<g fill="none" stroke="#fff" stroke-width="1.85" stroke-linecap="round" stroke-linejoin="round">
<path d="M1108.4 669A8.8 8.8 0 1 0 1093.2 671L1091.7 675.2L1096.2 673.9A8.8 8.8 0 0 0 1105.8 672.2"/>
<path d="M1095 668.4L1098 662.8Q1098.7 661.9 1099 663L1099.6 668.6L1102.6 662.6Q1103.6 661.4 1104.2 663L1105.4 667.2Q1106.6 669.4 1108.4 667.4"/></g>
<text id="b_an" x="1115.50" y="671.87" style="font-size:17.8px;font-weight:bold;fill:#ffffff;letter-spacing:-0.917px;">Analyze</text>
<path d="M1184.6 660.4L1190.4 666L1184.6 671.6" fill="none" stroke="#fff" stroke-width="1.8" stroke-linecap="round" stroke-linejoin="round"/>
</g>

<!-- range strip -->
<g id="strip">
<rect x="12" y="690.5" width="1196" height="21" fill="#f0f1fe"/>
<rect x="12" y="690.5" width="39.5" height="21" fill="#fff"/>
<line x1="12" x2="1208" y1="690.3" y2="690.3" stroke="#f3f4f8" stroke-width="1"/>
<g stroke="#e9ebf8" stroke-width="1.2"><line x1="167.3" x2="167.3" y1="690.5" y2="711"/><line x1="299.3" x2="299.3" y1="690.5" y2="711"/><line x1="431.6" x2="431.6" y1="690.5" y2="711"/><line x1="564.4" x2="564.4" y1="690.5" y2="711"/><line x1="697.1" x2="697.1" y1="690.5" y2="711"/><line x1="829.5" x2="829.5" y1="690.5" y2="711"/><line x1="962.0" x2="962.0" y1="690.5" y2="711"/><line x1="1094.3" x2="1094.3" y1="690.5" y2="711"/></g>
<g stroke="#f4f5f8" stroke-width="1.2"><line x1="12.5" x2="12.5" y1="690.5" y2="711"/><line x1="33.7" x2="33.7" y1="690.5" y2="711"/></g>
<circle cx="52" cy="712.8" r="8.3" fill="#fff"/><circle cx="1207" cy="713" r="9" fill="#fff"/>
</g>
</svg>
</body></html>
